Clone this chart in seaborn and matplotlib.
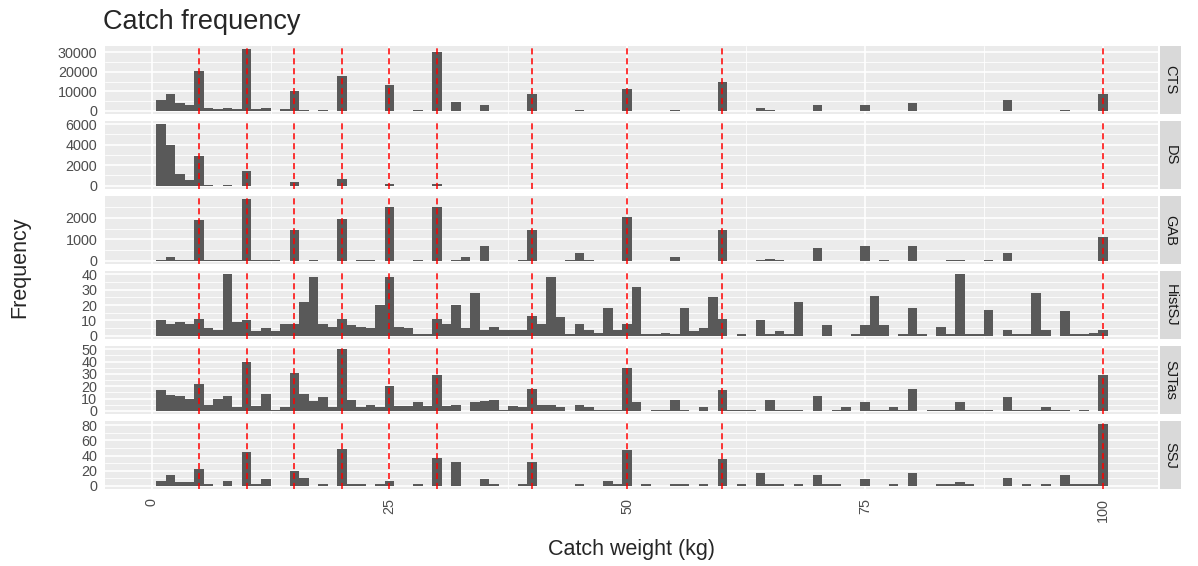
import numpy as np
import pandas as pd
import matplotlib
matplotlib.use('Agg')
import matplotlib.pyplot as plt
import seaborn as sns

sns.set_style("white")
plt.rcParams['font.family'] = ['Liberation Sans', 'DejaVu Sans']


# ── Data (counts, 1 kg bins) ─────────────────────────────────
fleets = ['CTS', 'DS', 'GAB', 'HistSJ', 'SJTas', 'SSJ']

cts_kg = [1, 2, 3, 4, 5, 6, 7, 8, 9, 10, 11, 12, 14, 15, 16, 18, 20, 25, 28, 30,
          32, 35, 40, 45, 50, 55, 60, 64, 65, 70, 75, 80, 90, 96, 100]
cts_n = [5300, 8500, 3700, 3000, 20500, 1500, 700, 1500, 700, 31700, 700, 1500,
         700, 10000, 500, 500, 18000, 13200, 500, 30000, 4400, 3000, 8500, 500,
         11000, 500, 14800, 1500, 500, 3000, 3000, 3700, 5300, 500, 8500]

ds_kg = [1, 2, 3, 4, 5, 6, 8, 10, 15, 20, 25, 30]
ds_n = [6000, 4000, 1170, 550, 2900, 100, 100, 1450, 350, 700, 150, 150]

gab_kg = [1, 2, 3, 4, 5, 6, 7, 8, 9, 10, 11, 12, 13, 15, 17, 20, 22, 23, 25, 28,
          30, 32, 33, 35, 39, 40, 44, 45, 46, 50, 55, 60, 64, 65, 66, 70, 75, 77,
          80, 84, 85, 88, 90, 100]
gab_n = [30, 170, 30, 30, 1900, 30, 30, 30, 30, 2880, 30, 30, 30, 1430, 40, 1970,
         30, 30, 2520, 40, 2520, 30, 170, 700, 30, 1430, 30, 380, 30, 2050, 170,
         1430, 40, 100, 40, 620, 700, 40, 700, 40, 40, 40, 380, 1130]

histsj_kg = [1, 2, 3, 4, 5, 6, 7, 8, 9, 10, 11, 12, 13, 14, 15, 16, 17, 18, 19, 20,
             21, 22, 23, 24, 25, 26, 27, 28, 29, 30, 31, 32, 33, 34, 35, 36, 37, 38,
             39, 40, 41, 42, 43, 44, 45, 46, 47, 48, 49, 50, 51, 52, 53, 54, 55, 56,
             57, 58, 59, 60, 62, 64, 65, 66, 67, 68, 71, 74, 75, 76, 77, 79, 80, 81,
             83, 84, 85, 86, 87, 88, 90, 91, 92, 93, 94, 96, 97, 98, 99, 100]
histsj_n = [10, 8, 9, 8, 11, 5, 4, 40, 9, 10, 3, 5, 3, 8, 8, 22, 38, 8, 6, 11,
            7, 6, 5, 20, 38, 6, 5, 1, 1, 11, 8, 20, 5, 28, 4, 6, 4, 4,
            4, 13, 8, 38, 12, 1, 8, 4, 2, 18, 4, 8, 32, 1, 1, 2, 1, 18,
            3, 5, 25, 11, 1, 10, 1, 3, 1, 22, 7, 1, 7, 26, 7, 1, 18, 1,
            6, 1, 40, 1, 1, 17, 4, 1, 1, 28, 4, 16, 1, 1, 2, 4]

sjtas_kg = [1, 2, 3, 4, 5, 6, 7, 8, 9, 10, 11, 12, 13, 14, 15, 16, 17, 18, 19, 20,
            21, 22, 23, 24, 25, 26, 27, 28, 29, 30, 31, 32, 34, 35, 36, 37, 38, 39,
            40, 41, 42, 43, 45, 46, 47, 48, 49, 50, 51, 53, 54, 55, 56, 58, 60, 61,
            62, 63, 65, 66, 67, 68, 70, 72, 73, 75, 76, 77, 78, 79, 80, 82, 83, 84,
            85, 86, 87, 88, 90, 91, 92, 93, 94, 95, 96, 98, 100]
sjtas_n = [17, 13, 12, 10, 22, 5, 10, 12, 3, 40, 4, 14, 1, 3, 31, 14, 8, 11, 3, 50,
           9, 3, 5, 3, 20, 4, 4, 7, 4, 29, 4, 5, 7, 8, 9, 1, 4, 3,
           18, 5, 5, 3, 5, 3, 1, 1, 1, 35, 7, 1, 1, 9, 1, 3, 17, 1,
           1, 1, 9, 1, 1, 1, 12, 1, 3, 7, 1, 1, 3, 1, 18, 1, 1, 1,
           7, 1, 1, 1, 11, 1, 1, 1, 3, 1, 1, 1, 29]

ssj_kg = [1, 2, 3, 4, 5, 6, 8, 10, 11, 12, 15, 16, 18, 20, 21, 22, 24, 25, 28, 30,
          32, 35, 36, 39, 40, 45, 48, 49, 50, 52, 55, 56, 58, 60, 62, 64, 65, 66,
          68, 70, 71, 72, 75, 78, 80, 83, 84, 85, 86, 90, 92, 94, 96, 97, 98, 99, 100]
ssj_n = [7, 15, 5, 5, 22, 3, 7, 45, 3, 9, 20, 11, 3, 49, 3, 3, 3, 7, 3, 37,
         31, 9, 3, 3, 31, 3, 7, 3, 47, 3, 3, 3, 3, 35, 3, 17, 3, 3,
         3, 15, 3, 3, 9, 3, 17, 3, 3, 5, 3, 11, 3, 3, 15, 3, 3, 3, 81]

ref_lines = [5, 10, 15, 20, 25, 30, 40, 50, 60, 100]
x_ticks = [0, 25, 50, 75, 100]

cts_ticks = [0, 10000, 20000, 30000]
ds_ticks = [0, 2000, 4000, 6000]
gab_ticks = [0, 1000, 2000]
histsj_ticks = [0, 10, 20, 30, 40]
sjtas_ticks = [0, 10, 20, 30, 40, 50]
ssj_ticks = [0, 20, 40, 60, 80]

kgs = [cts_kg, ds_kg, gab_kg, histsj_kg, sjtas_kg, ssj_kg]
counts = [cts_n, ds_n, gab_n, histsj_n, sjtas_n, ssj_n]
yticks = [cts_ticks, ds_ticks, gab_ticks, histsj_ticks, sjtas_ticks, ssj_ticks]

df = pd.concat([pd.DataFrame({'Fleet': f, 'Weight': k, 'Count': n})
                for f, k, n in zip(fleets, kgs, counts)], ignore_index=True)


# ── Layout (pixels) ──────────────────────────────────────────
W, H = 1198, 566
left, right = 105, 1158
top, bottom = 46, 489
gap = 7.3
ph = (bottom - top - gap * 5) / 6
strip_l, strip_r = 1160, 1181

fig = plt.figure(figsize=(W / 100, H / 100), dpi=100)

x0, x1 = -4.9, 105.8
grid_c = 'white'
text_c = '#4D4D4D'

for i, fleet in enumerate(fleets):
    ptop = top + i * (ph + gap)
    rect = [left / W, 1 - (ptop + ph) / H, (right - left) / W, ph / H]
    ax = fig.add_axes(rect)
    sub = df[df['Fleet'] == fleet]
    sns.histplot(data=sub, x='Weight', weights='Count', discrete=True,
                 color='#595959', alpha=1, linewidth=0, ax=ax)
    for v in ref_lines:
        ax.axvline(v, color='red', linestyle=(0, (4, 2.5)), linewidth=1.1, zorder=3)

    m = sub['Count'].max()
    ax.set_xlim(x0, x1)
    ax.set_ylim(-0.05 * m, 1.05 * m)
    ax.set_facecolor('#EBEBEB')

    t = yticks[i]
    ax.set_yticks(t)
    ax.set_yticklabels([str(v) for v in t])
    ax.set_yticks([(a + b) / 2 for a, b in zip(t[:-1], t[1:])] + [t[-1] + (t[1] - t[0]) / 2],
                  minor=True)
    ax.set_xticks(x_ticks)
    ax.set_xticks([12.5, 37.5, 62.5, 87.5], minor=True)
    ax.set_ylim(-0.05 * m, 1.05 * m)
    ax.grid(which='major', color=grid_c, linewidth=1.2)
    ax.grid(which='minor', color=grid_c, linewidth=0.6)
    ax.set_axisbelow(True)
    for s in ax.spines.values():
        s.set_visible(False)
    ax.set_xlabel('')
    ax.set_ylabel('')
    ax.tick_params(axis='y', which='major', labelsize=10.4, labelcolor=text_c,
                   color='#333333', length=3.5, width=0.8, pad=2)
    ax.tick_params(which='minor', length=0)
    if i < len(fleets) - 1:
        ax.tick_params(axis='x', which='major', length=0, labelbottom=False)
    else:
        ax.set_xticklabels([str(v) for v in x_ticks], rotation=90)
        ax.tick_params(axis='x', which='major', labelsize=10.4, labelcolor=text_c,
                       color='#333333', length=3.5, width=0.8, pad=3)

    # strip on the right
    sx = fig.add_axes([strip_l / W, rect[1], (strip_r - strip_l) / W, ph / H])
    sx.set_facecolor('#D9D9D9')
    sx.set_xticks([])
    sx.set_yticks([])
    for s in sx.spines.values():
        s.set_visible(False)
    sx.text(0.5, 0.5, fleet, rotation=-90, ha='center', va='center',
            fontsize=10.5, color='#1A1A1A', transform=sx.transAxes)


# ── Titles ───────────────────────────────────────────────────
fig.text(103 / W, 1 - 29 / H, 'Catch frequency', fontsize=19.5, ha='left', va='baseline')
fig.text(20 / W, 1 - ((top + bottom) / 2) / H, 'Frequency', fontsize=15.5,
         rotation=90, ha='center', va='center')
fig.text(((left + right) / 2) / W, 1 - 549 / H, 'Catch weight (kg)', fontsize=15.5,
         ha='center', va='center')

plt.savefig('out.png', dpi=100)
plt.close()
